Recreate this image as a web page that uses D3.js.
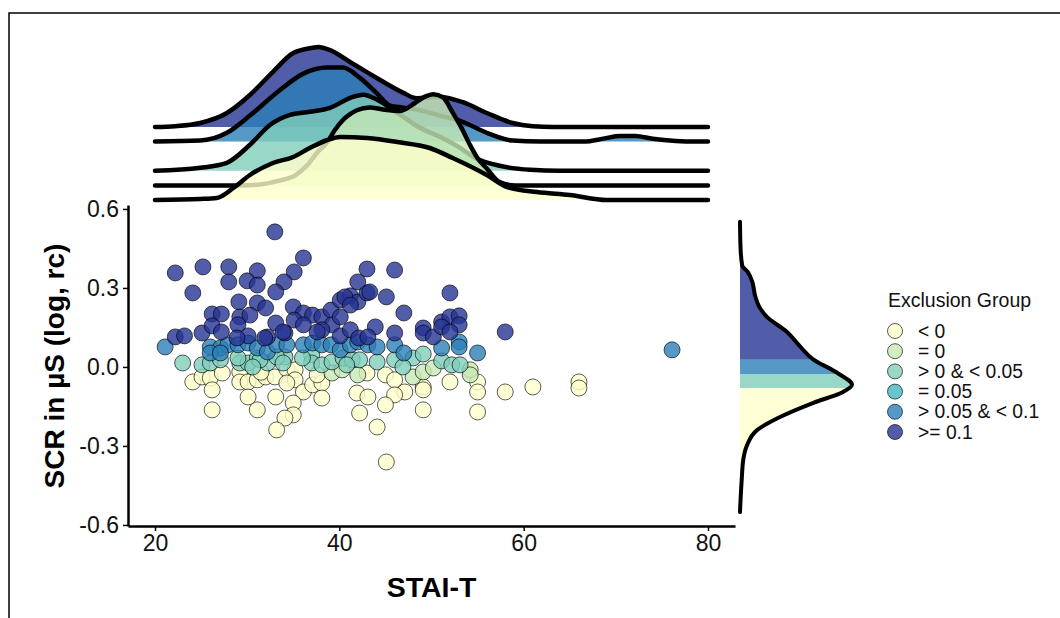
<!DOCTYPE html>
<html><head><meta charset="utf-8">
<script src="https://cdn.jsdelivr.net/npm/d3@7"></script>
<style>body{margin:0;background:#fff}svg{display:block;font-family:"Liberation Sans",Arial,sans-serif}</style>
</head><body><svg id="c" width="1060" height="618"></svg>
<script>
// ---------- data ----------
const groups = ["< 0", "= 0", "> 0 & < 0.05", "= 0.05", "> 0.05 & < 0.1", ">= 0.1"];
const colors = ["#ffffcc", "#c7e9b4", "#7fcdbb", "#41b6c4", "#2c7fb8", "#253494"];
const xTicks = [20, 40, 60, 80];
const yTicks = [-0.6, -0.3, 0.0, 0.3, 0.6];

// scatter points [STAI-T, SCR]
const ptsLt0 = [[24.1,-0.057],[25.1,-0.038],[26.0,-0.042],[27.3,-0.023],[26.2,-0.087],[26.2,-0.163],[29.2,-0.019],[29.2,-0.057],[30.1,-0.057],[31.1,-0.049],[32.0,-0.038],[33.0,-0.038],[34.3,-0.008],[35.2,-0.011],[35.2,-0.049],[30.1,-0.114],[31.1,-0.163],[33.1,-0.114],[34.3,-0.061],[36.1,-0.095],[37.1,-0.068],[38.1,-0.061],[38.1,-0.118],[35.0,-0.137],[35.0,-0.182],[34.1,-0.194],[33.2,-0.239],[43.0,-0.023],[41.9,-0.099],[43.1,-0.114],[42.2,-0.175],[44.1,-0.228],[45.0,-0.030],[46.0,-0.049],[52.0,-0.057],[55.0,-0.057],[55.0,-0.095],[49.1,-0.076],[49.1,-0.087],[47.1,-0.095],[46.0,-0.106],[45.0,-0.144],[49.1,-0.163],[55.0,-0.171],[45.1,-0.361],[58.0,-0.095],[61.0,-0.076],[66.0,-0.057],[66.0,-0.080],[37.6,-0.030],[31.5,-0.020]];
const ptsEq0 = [[39.2,-0.023],[40.3,-0.011],[42.0,-0.030],[48.0,-0.038],[49.1,-0.019],[50.2,-0.004],[54.2,-0.011],[54.2,-0.030]];
const ptsGt0Lt005 = [[23.0,0.015],[25.1,0.008],[26.0,0.015],[27.1,0.027],[29.2,0.015],[30.1,0.015],[31.1,0.034],[32.2,0.015],[34.1,0.038],[37.0,0.046],[37.0,0.015],[38.1,0.008],[39.2,0.019],[40.4,0.034],[41.4,0.027],[42.2,0.027],[44.1,0.019],[29.0,0.034],[31.4,0.027],[33.2,0.038],[36.0,0.034],[40.8,0.008],[30.6,0.0],[33.9,0.015],[46.0,0.027],[48.0,0.034],[49.1,0.049],[51.1,0.023],[52.2,0.008],[53.1,0.008],[46.9,0.0]];
const ptsEq005 = [];
const ptsGt005Lt01 = [[21.1,0.076],[26.0,0.076],[27.1,0.072],[27.9,0.084],[29.0,0.084],[30.1,0.091],[31.1,0.072],[32.2,0.057],[33.2,0.084],[34.3,0.084],[36.1,0.084],[37.1,0.091],[38.1,0.084],[39.1,0.084],[40.1,0.065],[41.2,0.084],[42.0,0.095],[43.1,0.084],[26.0,0.053],[27.1,0.053],[44.1,0.076],[46.0,0.084],[47.0,0.053],[51.1,0.072],[53.0,0.095],[53.0,0.076],[55.0,0.053],[76.1,0.065]];
const ptsGe01 = [[33.0,0.513],[22.2,0.357],[25.2,0.380],[28.0,0.380],[24.1,0.281],[28.0,0.323],[31.1,0.365],[30.0,0.327],[31.1,0.311],[36.1,0.414],[35.1,0.361],[34.0,0.323],[33.1,0.285],[29.1,0.247],[31.1,0.243],[32.0,0.224],[26.2,0.201],[27.2,0.201],[29.2,0.190],[30.3,0.197],[35.0,0.228],[36.1,0.205],[37.1,0.197],[38.1,0.190],[39.1,0.216],[40.1,0.254],[41.2,0.270],[42.0,0.247],[43.0,0.281],[42.0,0.323],[43.0,0.372],[29.0,0.160],[33.1,0.167],[35.1,0.178],[36.1,0.160],[39.2,0.160],[40.1,0.190],[43.9,0.152],[22.2,0.114],[23.2,0.118],[25.1,0.129],[26.2,0.156],[27.2,0.133],[30.1,0.118],[32.2,0.114],[34.1,0.129],[38.1,0.141],[40.1,0.118],[41.2,0.141],[42.1,0.110],[43.1,0.114],[46.0,0.368],[43.3,0.285],[45.1,0.266],[52.0,0.281],[47.0,0.205],[51.1,0.171],[52.0,0.190],[53.0,0.194],[53.0,0.160],[49.1,0.148],[49.1,0.129],[50.2,0.114],[51.1,0.152],[52.0,0.133],[46.0,0.129],[58.0,0.133],[40.6,0.266],[41.2,0.235],[33.9,0.133],[37.6,0.133],[28.9,0.110],[31.9,0.110]];

// top ridgeline densities [STAI-T, relative density]
const ridgeLt0 = [[20,0],[24.9,0.0125],[26.7,0.025],[28.5,0.15],[30.3,0.3125],[32.8,0.4625],[35.0,0.5375],[36.8,0.65],[38.7,0.75],[40.1,0.7875],[43.0,0.775],[46.3,0.725],[49.8,0.65],[52.3,0.525],[56.0,0.3125],[58.2,0.1625],[61.45,0.1],[65.0,0.0625],[69.0,0],[80,0]];
const ridgeEq0 = [[20,0],[29.2,0],[31.4,0.0125],[33.6,0.0625],[35.2,0.125],[36.5,0.25],[37.6,0.41],[38.7,0.54],[39.5,0.69],[40.6,0.84],[41.9,0.94],[43.3,0.975],[44.7,0.95],[46.6,0.93],[48.2,1.03],[49.3,1.11],[50.2,1.14],[51.25,1.1],[52.3,0.91],[53.3,0.71],[54.2,0.5],[55.0,0.34],[56.0,0.21],[57.4,0.04],[59.1,0],[80,0]];
const ridgeGt0Lt005 = [[20,0],[24.9,0.0375],[27.8,0.10],[30.3,0.325],[32.5,0.575],[34.65,0.70],[36.8,0.7375],[39.0,0.7875],[41.2,0.9125],[42.6,0.95],[44.1,0.8875],[45.5,0.7875],[47.1,0.6625],[48.75,0.5375],[50.9,0.425],[53.1,0.2875],[54.7,0.1625],[57.4,0.0625],[60.7,0.0125],[63.9,0],[80,0]];
const ridgeGt005Lt01 = [[20,0],[24.9,0.0125],[27.8,0.11],[30.3,0.325],[33.2,0.61],[36.1,0.85],[38.7,0.925],[40.4,0.925],[42.2,0.80],[44.1,0.60],[45.5,0.45],[46.9,0.425],[48.75,0.39],[50.9,0.325],[53.1,0.26],[56.0,0.11],[58.8,0.0125],[61.8,0],[66.5,0],[68.8,0.04],[70.45,0.07],[72.1,0.07],[74.0,0.035],[76.5,0.008],[78.5,0],[80,0]];
const ridgeGe01 = [[20,0],[22.2,0.01],[24.9,0.05],[27.8,0.175],[30.3,0.40],[32.8,0.69],[35.0,0.925],[37.1,0.99],[37.7,1.0],[39.0,0.96],[41.2,0.81],[44.1,0.61],[46.9,0.43],[48.4,0.36],[50.9,0.375],[53.4,0.31],[56.0,0.175],[58.8,0.05],[61.0,0.01],[63.2,0],[80,0]];

// right marginal density [SCR, relative density]
const sideDensity = [[0.551,0],[0.45,0.005],[0.385,0.02],[0.36,0.07],[0.323,0.11],[0.27,0.135],[0.23,0.17],[0.19,0.24],[0.133,0.42],[0.076,0.54],[0.03,0.65],[-0.023,0.87],[-0.068,1.0],[-0.095,0.92],[-0.137,0.65],[-0.19,0.357],[-0.24,0.152],[-0.30,0.06],[-0.35,0.03],[-0.43,0.015],[-0.551,0]];
const sideBandGroups = [">= 0.1", "> 0.05 & < 0.1", "> 0 & < 0.05", "< 0"];
const sideBandEdges = [0.6, 0.027, -0.027, -0.080, -0.6];

// ---------- drawing ----------
const svg = d3.select("#c");
const color = d3.scaleOrdinal().domain(groups).range(colors);
const x = d3.scaleLinear().domain([17.07, 82.93]).range([128, 735]);
const y = d3.scaleLinear().domain([-0.604, 0.615]).range([526, 205]);

// frame
svg.append("path").attr("d", "M9,618 L9,13 L1060,13").attr("fill","none").attr("stroke","#000").attr("stroke-width",1.5);

// scatter
const pointSets = [ptsLt0, ptsEq0, ptsGt0Lt005, ptsEq005, ptsGt005Lt01, ptsGe01];
const gPts = svg.append("g");
pointSets.forEach((pts, gi) => {
  gPts.selectAll(null).data(pts).enter().append("circle")
    .attr("cx", d => x(d[0])).attr("cy", d => y(d[1])).attr("r", 8)
    .attr("fill", color(groups[gi])).attr("fill-opacity", 0.8)
    .attr("stroke", "#000").attr("stroke-opacity", 0.8).attr("stroke-width", 0.8);
});

// axes
const fmt = d => (+d).toFixed(1);
const gx = svg.append("g").attr("transform", "translate(0,526)")
  .call(d3.axisBottom(x).tickValues(xTicks).tickSize(5).tickSizeOuter(0).tickPadding(4));
const gy = svg.append("g").attr("transform", "translate(128,0)")
  .call(d3.axisLeft(y).tickValues(yTicks).tickFormat(fmt).tickSize(5).tickSizeOuter(0).tickPadding(4));
[gx, gy].forEach(g => {
  g.attr("font-size", null).attr("font-family", null);
  g.select(".domain").attr("stroke", "#000").attr("stroke-width", 2.5);
  g.selectAll(".tick line").attr("stroke", "#000").attr("stroke-width", 1.5);
  g.selectAll(".tick text").attr("fill", "#111").style("font-size", "23px");
});
svg.append("text").attr("x", 431.5).attr("y", 597).attr("text-anchor", "middle")
  .style("font-size", "28.5px").style("font-weight", "bold").text("STAI-T");
svg.append("text").attr("transform", "translate(64,366) rotate(-90)").attr("text-anchor", "middle")
  .style("font-size", "28px").style("font-weight", "bold").text("SCR in µS (log, rc)");

// top ridgelines
const base = d3.scaleLinear().domain([0, 5]).range([200, 127]);
const hgt = d3.scaleLinear().domain([0, 1]).range([0, 80]);
const ridges = [ridgeLt0, ridgeEq0, ridgeGt0Lt005, null, ridgeGt005Lt01, ridgeGe01];
const gR = svg.append("g");
for (let gi = 5; gi >= 0; gi--) {
  const r = ridges[gi];
  if (!r) continue;
  const b = base(gi);
  const area = d3.area().x(d => x(d[0])).y0(b).y1(d => b - hgt(d[1])).curve(d3.curveMonotoneX);
  const line = d3.line().x(d => x(d[0])).y(d => b - hgt(d[1])).curve(d3.curveMonotoneX);
  gR.append("path").datum(r).attr("d", area).attr("fill", color(groups[gi])).attr("fill-opacity", 0.8);
  gR.append("path").datum(r).attr("d", line).attr("fill", "none").attr("stroke", "#000")
    .attr("stroke-width", 4.5).attr("stroke-linecap", "round").attr("stroke-linejoin", "round");
}

// right marginal density
const dx = d3.scaleLinear().domain([0, 1]).range([740, 852]);
const defs = svg.append("defs");
const sideArea = d3.area().y(d => y(d[0])).x0(dx(0)).x1(d => dx(d[1])).curve(d3.curveMonotoneY);
const sortedSide = sideDensity.slice().sort((a, b) => a[0] - b[0]);
sideBandGroups.forEach((g, i) => {
  const id = "band" + i;
  const top = y(sideBandEdges[i]), bot = y(sideBandEdges[i + 1]);
  defs.append("clipPath").attr("id", id).append("rect")
    .attr("x", 700).attr("width", 200).attr("y", top).attr("height", bot - top);
  svg.append("path").datum(sortedSide).attr("d", sideArea).attr("clip-path", `url(#${id})`)
    .attr("fill", color(g)).attr("fill-opacity", 0.8);
});
svg.append("path").datum(sortedSide)
  .attr("d", d3.line().y(d => y(d[0])).x(d => dx(d[1])).curve(d3.curveMonotoneY))
  .attr("fill", "none").attr("stroke", "#000").attr("stroke-width", 4).attr("stroke-linecap", "round");

// legend
const lg = svg.append("g");
lg.append("text").attr("x", 888).attr("y", 307).style("font-size", "19.5px").attr("fill", "#111").text("Exclusion Group");
const ly = d3.scalePoint().domain(groups).range([331, 432]);
groups.forEach(g => {
  lg.append("circle").attr("cx", 895).attr("cy", ly(g)).attr("r", 7.5)
    .attr("fill", color(g)).attr("fill-opacity", 0.8).attr("stroke", "#000").attr("stroke-opacity", 0.8).attr("stroke-width", 0.8);
  lg.append("text").attr("x", 918).attr("y", ly(g) + 6.5).style("font-size", "19.3px").attr("fill", "#111").text(g);
});
</script></body></html>
